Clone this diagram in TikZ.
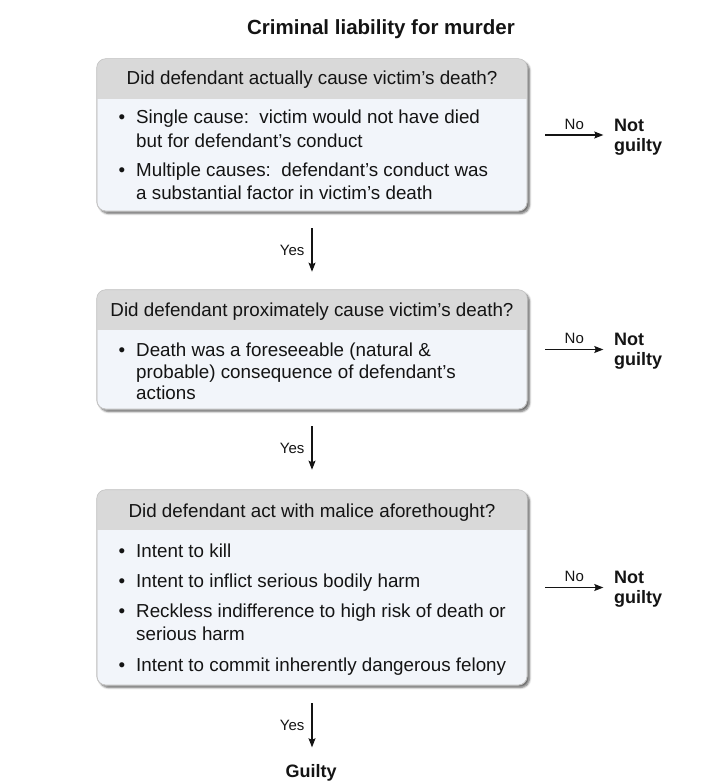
\documentclass[tikz,border=0pt]{standalone}
\usepackage{fontspec}
\setmainfont{Liberation Sans}
\usetikzlibrary{shadows.blur,arrows.meta}
\definecolor{hdr}{RGB}{217,217,217}
\definecolor{bodyc}{RGB}{242,245,250}
\definecolor{edge}{RGB}{195,195,195}
\definecolor{ink}{RGB}{20,20,20}
\newcommand{\bodyfont}{\fontsize{18.8}{23}\selectfont}
\begin{document}
\begin{tikzpicture}[x=1pt,y=-1pt,
  boxshape/.style={draw=edge, line width=0.6pt, fill=bodyc, rounded corners=9pt,
    minimum width=430pt, inner sep=0pt,
    blur shadow={shadow xshift=2.5pt, shadow yshift=-2.5pt, shadow blur steps=6, shadow opacity=60}},
  hdrtext/.style={font=\bodyfont, text=ink, anchor=base, inner sep=0pt},
  bodytext/.style={font=\bodyfont, text=ink, anchor=base west, inner sep=0pt},
  small/.style={font=\fontsize{15}{17}\selectfont, text=ink, inner sep=0pt},
  verdict/.style={font=\fontsize{18}{20}\selectfont\bfseries, text=ink, inner sep=0pt, align=left},
  arr/.style={draw=ink, line width=1.2pt, -{Stealth[length=9pt,width=7pt,inset=1.5pt]}}]
\useasboundingbox (0,0) rectangle (725,781);

% title
\node[font=\fontsize{20.5}{24}\selectfont\bfseries, text=ink, anchor=base, inner sep=0pt] (title) at (381,35) {Criminal liability for murder};

% boxes
\node[boxshape, minimum height=152pt] (b1) at (312,135) {};
\node[boxshape, minimum height=119pt] (b2) at (312,349.5) {};
\node[boxshape, minimum height=195pt] (b3) at (312,587.5) {};

\foreach \b in {b1,b2,b3}{
  \begin{scope}
    \clip[rounded corners=9pt] (\b.north west) rectangle (\b.south east);
    \fill[hdr] (\b.north west) rectangle ([yshift=-40.5pt]\b.north east);
  \end{scope}
  \draw[edge, line width=0.6pt, rounded corners=9pt] (\b.north west) rectangle (\b.south east);
}

% box 1 text
\node[hdrtext] (h1) at (312,85) {Did defendant actually cause victim’s death?};
\node[bodytext] (u1a) at (118.5,124) {•};
\node[bodytext] (t1a) at (136,124) {Single cause:\ \ victim would not have died};
\node[bodytext] (t1b) at (136,147) {but for defendant’s conduct};
\node[bodytext] (u1b) at (118.5,176) {•};
\node[bodytext] (t1c) at (136,176) {Multiple causes:\ \ defendant’s conduct was};
\node[bodytext] (t1d) at (136,199) {a substantial factor in victim’s death};

% box 2 text
\node[hdrtext] (h2) at (312,316) {Did defendant proximately cause victim’s death?};
\node[bodytext] (u2a) at (118.5,356) {•};
\node[bodytext] (t2a) at (136,356) {Death was a foreseeable (natural \&};
\node[bodytext] (t2b) at (136,378) {probable) consequence of defendant’s};
\node[bodytext] (t2c) at (136,399) {actions};

% box 3 text
\node[hdrtext] (h3) at (312,517) {Did defendant act with malice aforethought?};
\node[bodytext] (u3a) at (118.5,557) {•};
\node[bodytext] (t3a) at (136,557) {Intent to kill};
\node[bodytext] (u3b) at (118.5,587) {•};
\node[bodytext] (t3b) at (136,587) {Intent to inflict serious bodily harm};
\node[bodytext] (u3c) at (118.5,617) {•};
\node[bodytext] (t3c) at (136,617) {Reckless indifference to high risk of death or};
\node[bodytext] (t3d) at (136,640) {serious harm};
\node[bodytext] (u3d) at (118.5,671) {•};
\node[bodytext] (t3e) at (136,671) {Intent to commit inherently dangerous felony};

% not guilty verdicts (base = last line)
\node[verdict, anchor=base west] (ng1) at (614,151) {Not\\guilty};
\node[verdict, anchor=base west] (ng2) at (614,365.5) {Not\\guilty};
\node[verdict, anchor=base west] (ng3) at (614,603.5) {Not\\guilty};

\foreach \b/\n in {b1/ng1,b2/ng2,b3/ng3}{
  \coordinate (s\b) at ([xshift=18pt]\b.east);
  \coordinate (e\b) at ([xshift=76pt]\b.east);
  \draw[arr] (s\b) -- node[small, above=5pt] {No} (e\b);
}

% yes arrows
\node[verdict, anchor=base] (g) at (311,777) {Guilty};
\draw[arr] ([yshift=-17pt]b1.south) -- node[small, left=7pt] {Yes} ([yshift=18pt]b2.north);
\draw[arr] ([yshift=-17pt]b2.south) -- node[small, left=7pt] {Yes} ([yshift=20pt]b3.north);
\draw[arr] ([yshift=-18pt]b3.south) -- node[small, left=7pt] {Yes} ([yshift=-62pt]b3.south);
\end{tikzpicture}
\end{document}
